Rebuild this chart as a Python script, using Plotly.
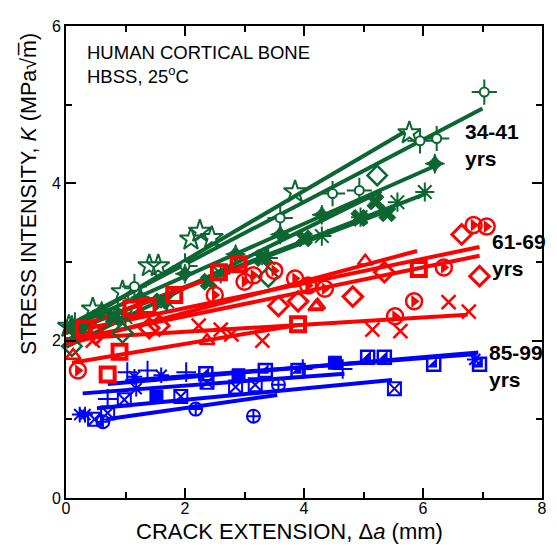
import plotly.graph_objects as go

# ---------------- DATA ----------------
# Green: 34-41 yrs
g_star_x = [0.05, 0.45, 0.95, 1.4, 1.55, 2.1, 2.25, 2.45, 3.85, 5.77]
g_star_y = [2.18, 2.40, 2.62, 2.95, 2.95, 3.29, 3.39, 3.31, 3.89, 4.64]
g_star_fit = [0.0, 5.7, 2.13, 4.66]

g_circ_x = [0.15, 0.87, 1.15, 2.0, 3.6, 4.48, 4.93, 5.95, 6.23, 7.03]
g_circ_y = [2.20, 2.35, 2.69, 2.95, 3.56, 3.87, 3.91, 4.54, 4.57, 5.16]
g_circ_fit = [0.0, 7.0, 2.18, 4.95]

g_sd_x = [0.1, 0.6, 1.25, 2.0, 2.85, 3.6, 4.3, 6.2]
g_sd_y = [2.20, 2.38, 2.55, 2.85, 3.10, 3.35, 3.60, 4.25]
g_sd_fit = [0.0, 6.2, 2.15, 4.22]

g_ast_x = [0.3, 1.0, 1.7, 2.6, 3.4, 4.3, 4.95, 5.57, 6.03]
g_ast_y = [2.15, 2.30, 2.50, 2.85, 3.05, 3.33, 3.57, 3.76, 3.89]
g_ast_fit = [0.0, 6.05, 2.10, 3.87]

g_x_x = [0.2, 0.8, 1.6, 2.4, 3.3, 4.0, 4.93, 5.2, 5.4]
g_x_y = [2.15, 2.30, 2.50, 2.75, 3.05, 3.30, 3.56, 3.77, 3.62]
g_x_fit = [0.0, 5.5, 2.10, 3.68]

g_dia_x = [0.1, 0.95, 3.4, 5.23]
g_dia_y = [1.93, 2.10, 2.81, 4.10]
g_dia_fit = [0.0, 5.3, 1.92, 3.90]

# Red: 61-69 yrs
r_x_x = [0.45, 2.23, 2.6, 2.78, 3.3, 5.15, 5.62, 6.43, 6.77]
r_x_y = [2.00, 2.19, 2.14, 2.08, 2.00, 2.14, 2.12, 2.49, 2.37]
r_x_fit = [0.0, 6.75, 2.02, 2.33]

r_sq1_x = [0.7, 0.9, 3.9]
r_sq1_y = [1.57, 1.86, 2.21]
r_sq1_fit = [0.1, 3.9, 1.72, 2.20]

r_sq2_x = [0.3, 1.1, 1.37, 1.82, 2.57, 2.9, 5.93]
r_sq2_y = [2.15, 2.41, 2.44, 2.58, 2.87, 2.97, 2.91]
r_sq2_fit = [0.0, 3.0, 2.12, 2.95]

r_half_x = [0.2, 2.5, 3.0, 3.15, 3.5, 3.85, 4.07, 4.35, 5.53, 5.85, 6.35, 6.85, 7.07]
r_half_y = [1.62, 2.58, 2.75, 2.83, 2.89, 2.79, 2.70, 2.66, 2.31, 2.50, 2.93, 3.47, 3.45]
r_half_fit = [0.0, 6.95, 2.10, 3.19]

r_dia_x = [0.5, 1.4, 1.57, 3.57, 3.9, 4.82, 5.35, 6.65, 6.95]
r_dia_y = [2.08, 2.16, 2.19, 2.44, 2.50, 2.56, 2.87, 3.35, 2.82]
r_dia_fit = [0.0, 6.95, 2.00, 3.08]

r_tri_x = [0.12, 2.37, 4.2, 4.23, 5.03]
r_tri_y = [1.81, 2.00, 2.43, 2.45, 3.01]
r_tri_fit = [0.0, 5.9, 1.95, 3.14]

# Blue: 85-99 yrs
b_half_x = [2.35, 3.35, 3.9, 5.07, 5.35, 6.18, 6.95]
b_half_y = [1.58, 1.62, 1.62, 1.79, 1.79, 1.70, 1.70]
b_half_fit = [0.7, 6.93, 1.45, 1.85]

b_plus_x = [0.7, 1.03, 1.37, 2.02, 3.98, 4.65]
b_plus_y = [1.26, 1.60, 1.62, 1.60, 1.64, 1.64]
b_plus_fit = [0.28, 4.68, 1.33, 1.58]

b_sqx_x = [0.48, 0.7, 0.98, 1.93, 2.37, 2.85, 3.18, 5.52]
b_sqx_y = [1.00, 1.08, 1.25, 1.29, 1.47, 1.41, 1.44, 1.39]
b_sqx_fit = [0.52, 5.48, 1.14, 1.50]

b_cp_x = [0.62, 2.18, 3.15, 3.57]
b_cp_y = [0.97, 1.13, 1.04, 1.44]
b_cp_fit = [0.68, 3.55, 1.00, 1.31]

b_ast_x = [0.23, 0.32, 1.15, 1.18, 1.6, 6.87]
b_ast_y = [1.06, 1.06, 1.54, 1.39, 1.56, 1.76]
b_ast_fit = [1.0, 6.9, 1.49, 1.83]

b_sq_x = [1.52, 2.9, 4.52]
b_sq_y = [1.29, 1.56, 1.72]

x_ticks = [0, 2, 4, 6, 8]
y_ticks = [0, 2, 4, 6]

# ---------------- FIGURE ----------------
GREEN = "#0b6632"
RED = "#ff0000"
BLUE = "#0000ff"
FONT = "Arial, Liberation Sans, sans-serif"

fig = go.Figure()


def add_fit(fit, color, width=4):
    fig.add_trace(go.Scatter(x=[fit[0], fit[1]], y=[fit[2], fit[3]], mode="lines",
                             line=dict(color=color, width=width), hoverinfo="skip",
                             showlegend=False))


def add_pts(x, y, color, symbol, size=13, lw=2.5, fill=None):
    fig.add_trace(go.Scatter(x=x, y=y, mode="markers", cliponaxis=False, showlegend=False,
                             marker=dict(symbol=symbol, size=size,
                                         color=fill if fill else color,
                                         line=dict(color=color, width=lw))))


# fitted lines
for fit, c in [(g_star_fit, GREEN), (g_circ_fit, GREEN), (g_sd_fit, GREEN), (g_ast_fit, GREEN),
               (g_x_fit, GREEN), (g_dia_fit, GREEN),
               (r_x_fit, RED), (r_sq1_fit, RED), (r_sq2_fit, RED), (r_half_fit, RED),
               (r_dia_fit, RED), (r_tri_fit, RED),
               (b_half_fit, BLUE), (b_plus_fit, BLUE), (b_sqx_fit, BLUE), (b_cp_fit, BLUE),
               (b_ast_fit, BLUE)]:
    add_fit(fit, c)

# green markers
add_pts(g_star_x, g_star_y, GREEN, "star-open", size=17, lw=2)
add_pts(g_circ_x, g_circ_y, GREEN, "cross-thin-open", size=18, lw=2)
add_pts(g_circ_x, g_circ_y, GREEN, "circle", size=9, lw=2, fill="white")
add_pts(g_sd_x, g_sd_y, GREEN, "star-diamond", size=14, lw=1)
add_pts(g_ast_x, g_ast_y, GREEN, "asterisk-open", size=16, lw=2)
add_pts(g_x_x, g_x_y, GREEN, "x", size=15, lw=1)
add_pts(g_dia_x, g_dia_y, GREEN, "diamond-open", size=15, lw=2.5)

# red markers
add_pts(r_x_x, r_x_y, RED, "x-thin-open", size=14, lw=2.5)
add_pts(r_sq1_x, r_sq1_y, RED, "square-open", size=14, lw=4)
add_pts(r_sq2_x, r_sq2_y, RED, "square-open", size=14, lw=4)
add_pts(r_half_x, r_half_y, RED, "circle-open", size=16, lw=2.5)
add_pts(r_half_x, r_half_y, RED, "triangle-right", size=11, lw=0)
add_pts(r_dia_x, r_dia_y, RED, "diamond-open", size=15, lw=3)
add_pts(r_tri_x, r_tri_y, RED, "triangle-up-open", size=13, lw=2.5)

# blue markers
add_pts(b_half_x, b_half_y, BLUE, "square-open", size=13, lw=2.5)
add_pts(b_half_x, b_half_y, BLUE, "triangle-se", size=11, lw=0)
add_pts(b_plus_x, b_plus_y, BLUE, "cross-thin-open", size=14, lw=2)
add_pts(b_sqx_x, b_sqx_y, BLUE, "square-x-open", size=13, lw=2)
add_pts(b_cp_x, b_cp_y, BLUE, "circle-cross-open", size=13, lw=2)
add_pts(b_ast_x, b_ast_y, BLUE, "asterisk-open", size=13, lw=2)
add_pts(b_sq_x, b_sq_y, BLUE, "square", size=13, lw=1)

axis_common = dict(showgrid=False, zeroline=False, showline=True, linecolor="black",
                   linewidth=2, mirror="ticks", ticks="inside", ticklen=10, tickwidth=1.5,
                   tickcolor="black", tickfont=dict(family=FONT, size=16, color="black"))

fig.update_xaxes(range=[0, 8], tickmode="array", tickvals=x_ticks, ticklabelstandoff=-5,
                 minor=dict(ticks="inside", dtick=1, tick0=0, ticklen=6, tickwidth=1.5,
                            tickcolor="black"),
                 **axis_common)
fig.update_yaxes(range=[0, 6], tickmode="array", tickvals=y_ticks,
                 minor=dict(ticks="inside", dtick=1, tick0=0, ticklen=6, tickwidth=1.5,
                            tickcolor="black"),
                 **axis_common)

ann = []
ann.append(dict(text="HUMAN CORTICAL BONE<br>HBSS, 25<sup>o</sup>C", xref="paper", yref="paper",
                x=0.04, y=0.97, xanchor="left", yanchor="top", align="left", showarrow=False,
                font=dict(family=FONT, size=18.5, color="black")))
for label, xp, yp in [("34-41<br>yrs", 0.835, 0.805), ("61-69<br>yrs", 0.89, 0.571),
                      ("85-99<br>yrs", 0.885, 0.336)]:
    ann.append(dict(text="<b>" + label + "</b>", xref="paper", yref="paper", x=xp, y=yp,
                    xanchor="left", yanchor="top", align="left", showarrow=False,
                    font=dict(family=FONT, size=21, color="black")))
ann.append(dict(text="CRACK EXTENSION, Δ<i>a</i> (mm)", xref="paper", yref="paper",
                x=0.47, y=-0.07, xanchor="center", yanchor="middle", showarrow=False,
                font=dict(family=FONT, size=22, color="black")))
ann.append(dict(text="STRESS INTENSITY, <i>K</i> (MPa√m\u0305)", xref="paper", yref="paper",
                x=-0.079, y=0.645, xanchor="center", yanchor="middle", textangle=-90,
                showarrow=False, font=dict(family=FONT, size=21.5, color="black")))

# page body has an 8px margin, so the figure is sized/offset to land where the reference plot is
fig.update_layout(width=549, height=540, margin=dict(l=58, r=11, t=10, b=50),
                  plot_bgcolor="white", paper_bgcolor="white", showlegend=False,
                  annotations=ann)

fig.write_html("out.html")
